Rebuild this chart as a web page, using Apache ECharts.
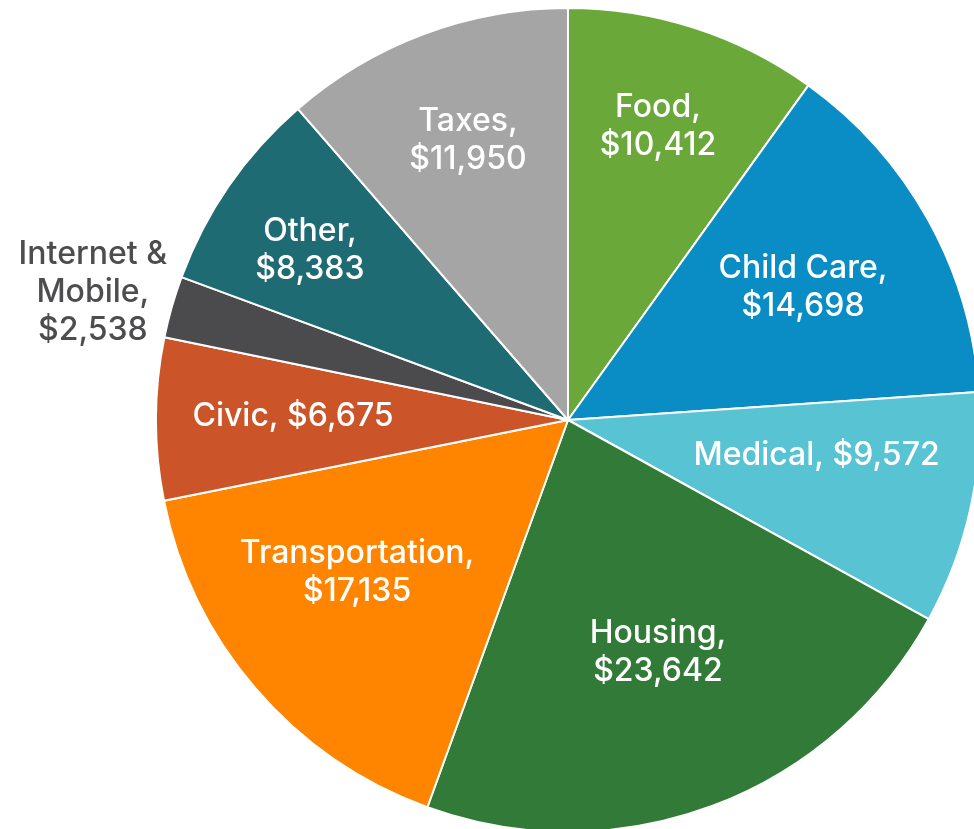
<!DOCTYPE html>
<html>
<head>
<meta charset="utf-8">
<script src="https://cdn.jsdelivr.net/npm/echarts@6/dist/echarts.min.js"></script>
<style>
  html, body { margin: 0; padding: 0; background: #fff; }
  #main { width: 974px; height: 829px; }
</style>
</head>
<body>
<div id="main"></div>
<script>
// categories and values, clockwise from 12 o'clock
var categories = ['Food', 'Child Care', 'Medical', 'Housing', 'Transportation', 'Civic', 'Internet &\nMobile', 'Other', 'Taxes'];
var values = [10412, 14698, 9572, 23642, 17135, 6675, 2538, 8383, 11950];
// label text layout (line break after the comma or not)
var labelBreak = [true, true, false, true, true, false, true, true, true];

var colors = ['#6aa83a', '#0a8dc4', '#58c3d2', '#327a38', '#ff8400', '#cb5428', '#4b4a4d', '#1f6b74', '#a5a5a5'];
// label placement: distance from centre (px) and small angle nudge (deg)
var labelDist = [307, 270, 251, 249, 260, 275, 492, 309, 297];
var labelNudge = [-0.8, -0.4, -4.5, -0.6, 4.9, 0.7, -0.9, -1.3, 0.8];

var cx = 568, cy = 420, R = 412;

var total = values.reduce(function (a, b) { return a + b; }, 0);
var midAngles = [];
var acc = 0;
for (var i = 0; i < values.length; i++) {
    midAngles.push((acc + values[i] / 2) / total * Math.PI * 2 + labelNudge[i] * Math.PI / 180);
    acc += values[i];
}

function money(v) {
    return '$' + v.toString().replace(/\B(?=(\d{3})+(?!\d))/g, ',');
}

var myChart = echarts.init(document.getElementById('main'));
var option = {
    animation: false,
    series: [
        {
            type: 'pie',
            center: [cx, cy],
            radius: [0, R],
            startAngle: 90,
            clockwise: true,
            avoidLabelOverlap: false,
            itemStyle: { borderColor: '#fff', borderWidth: 2 },
            label: {
                show: true,
                position: 'inside',
                color: '#fff',
                fontFamily: 'Inter',
                fontWeight: 500,
                fontSize: 32,
                lineHeight: 38,
                align: 'center',
                formatter: function (p) {
                    return p.name + ',' + (labelBreak[p.dataIndex] ? '\n' : ' ') + money(p.value);
                }
            },
            labelLine: { show: false },
            labelLayout: function (p) {
                var a = midAngles[p.dataIndex];
                var d = labelDist[p.dataIndex];
                return {
                    x: cx + d * Math.sin(a),
                    y: cy - d * Math.cos(a),
                    align: 'center',
                    verticalAlign: 'middle'
                };
            },
            data: categories.map(function (c, i) {
                var item = { name: c, value: values[i], itemStyle: { color: colors[i] } };
                if (i === 6) {
                    item.label = { color: '#4d4d4f' };
                }
                return item;
            })
        }
    ]
};
myChart.setOption(option);
window.onresize = function () {
    myChart.resize();
};
</script>
</body>
</html>
